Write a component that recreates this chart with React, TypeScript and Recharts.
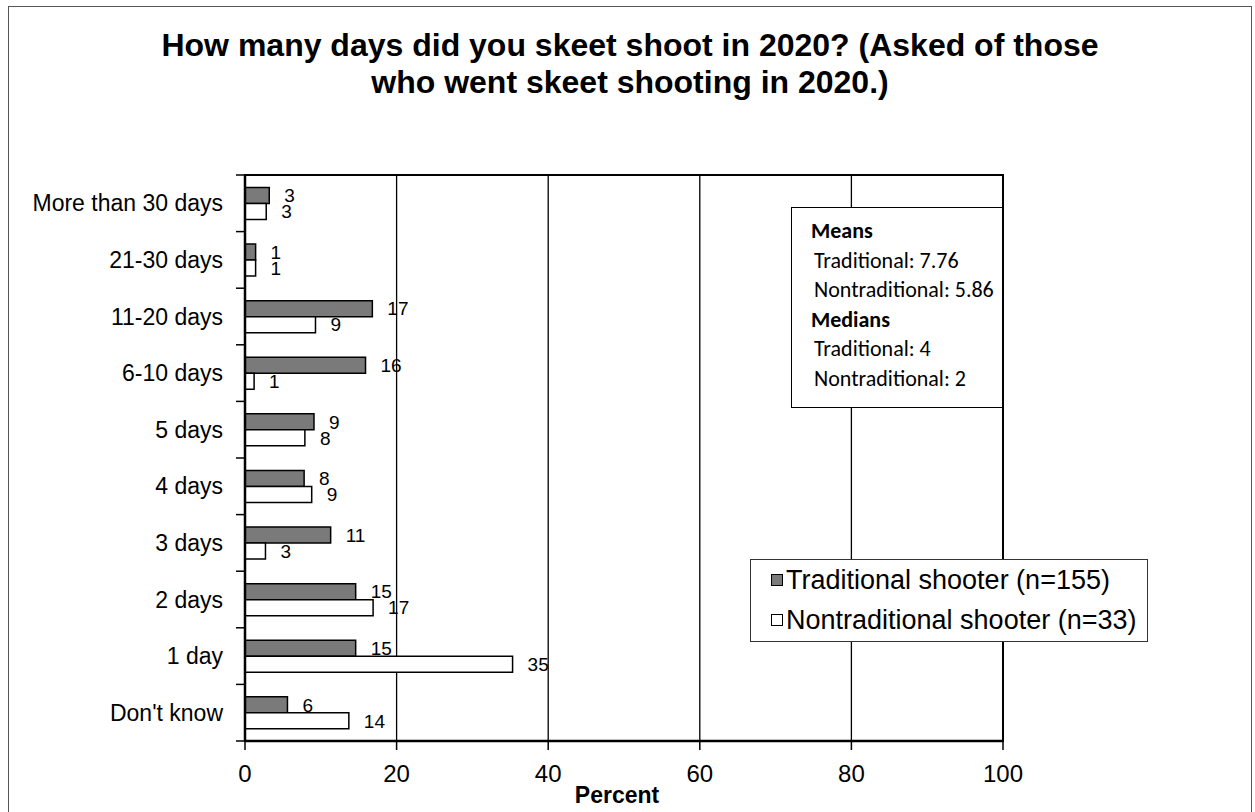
import React from 'react';
import { BarChart, Bar, XAxis, YAxis, CartesianGrid, Legend, LabelList, ReferenceArea } from 'recharts';

const categories = ['More than 30 days', '21-30 days', '11-20 days', '6-10 days', '5 days', '4 days', '3 days', '2 days', '1 day', "Don't know"];
const traditional = [3.2, 1.4, 16.8, 15.9, 9.1, 7.8, 11.3, 14.6, 14.6, 5.6];
const nontraditional = [2.8, 1.4, 9.3, 1.2, 7.9, 8.8, 2.7, 16.9, 35.3, 13.7];
const xTicks = [0, 20, 40, 60, 80, 100];
const seriesNames = ['Traditional shooter (n=155)', 'Nontraditional shooter (n=33)'];
const seriesFills = ['#7a7a7a', '#ffffff'];
const meansLines = [
  { text: 'Means', bold: true },
  { text: 'Traditional: 7.76', bold: false },
  { text: 'Nontraditional: 5.86', bold: false },
  { text: 'Medians', bold: true },
  { text: 'Traditional: 4', bold: false },
  { text: 'Nontraditional: 2', bold: false },
];

const data = categories.map((c, i) => ({ cat: c, trad: traditional[i], non: nontraditional[i] }));

const W = 1255;
const H = 812;
const PLOT_LEFT = 245;
const PLOT_TOP = 175;
const PLOT_RIGHT = 1003;
const PLOT_BOTTOM = 741;
const BAND = (PLOT_BOTTOM - PLOT_TOP) / categories.length;
const FONT = 'Arial, "Liberation Sans", sans-serif';

const YTick = (props: any) => {
  const { y, payload, index } = props;
  const yb = y - BAND / 2;
  return (
    <g>
      <text x={PLOT_LEFT - 22} y={y} textAnchor="end" dominantBaseline="central" fontSize={23} fontFamily={FONT} fill="#000">
        {payload.value}
      </text>
      <line x1={PLOT_LEFT - 9} x2={PLOT_LEFT} y1={yb} y2={yb} stroke="#000" strokeWidth={1.5} />
      {index === categories.length - 1 && (
        <line x1={PLOT_LEFT - 9} x2={PLOT_LEFT} y1={y + BAND / 2} y2={y + BAND / 2} stroke="#000" strokeWidth={1.5} />
      )}
    </g>
  );
};

const XTick = (props: any) => {
  const { x, payload } = props;
  return (
    <text x={x} y={782} textAnchor="middle" fontSize={24} fontFamily={FONT} fill="#000">
      {payload.value}
    </text>
  );
};

const LegendContent = (props: any) => {
  const payload = [...(props.payload || [])].sort(
    (a: any, b: any) => seriesNames.indexOf(a.value) - seriesNames.indexOf(b.value)
  );
  return (
    <div
      style={{
        border: '1.5px solid #333',
        background: '#fff',
        width: 398,
        height: 83,
        boxSizing: 'border-box',
        paddingLeft: 20,
        paddingTop: 0,
        fontFamily: FONT,
        fontSize: 27,
        color: '#000',
      }}
    >
      {payload.map((p: any, i: number) => (
        <div key={i} style={{ display: 'flex', alignItems: 'center', height: 40, whiteSpace: 'nowrap' }}>
          <span
            style={{
              display: 'inline-block',
              width: 10,
              height: 10,
              background: seriesFills[seriesNames.indexOf(p.value)] ?? p.color,
              border: '1px solid #000',
              marginRight: 3,
              flex: 'none',
            }}
          />
          <span>{p.value}</span>
        </div>
      ))}
    </div>
  );
};

export default function App() {
  return (
    <div style={{ position: 'fixed', left: 0, top: 0, width: W, height: H, background: '#fff', overflow: 'hidden' }}>
      <div
        style={{
          position: 'absolute',
          left: 8,
          top: 6,
          width: 1244,
          height: 840,
          border: '1.5px solid #555',
          boxSizing: 'border-box',
        }}
      />
      <div
        style={{
          position: 'absolute',
          left: 8,
          top: 27,
          width: 1244,
          textAlign: 'center',
          fontFamily: FONT,
          fontWeight: 'bold',
          fontSize: 32,
          lineHeight: '37px',
          color: '#000',
        }}
      >
        How many days did you skeet shoot in 2020? (Asked of those
        <br />
        who went skeet shooting in 2020.)
      </div>
      <div style={{ position: 'absolute', left: 0, top: 0 }}>
        <BarChart
          width={W}
          height={H}
          data={data}
          layout="vertical"
          margin={{ top: PLOT_TOP, right: W - PLOT_RIGHT, bottom: 21, left: 0 }}
          barCategoryGap="22%"
          barGap={0}
        >
          <CartesianGrid horizontal={false} vertical={true} stroke="#000" strokeWidth={1.3} />
          <XAxis
            type="number"
            domain={[0, 100]}
            ticks={xTicks}
            height={50}
            tick={<XTick />}
            tickSize={9}
            tickLine={{ stroke: '#000', strokeWidth: 1.5 }}
            axisLine={{ stroke: '#000', strokeWidth: 2.5 }}
            interval={0}
            label={() => (
              <text x={617} y={803} textAnchor="middle" fontSize={23} fontWeight="bold" fontFamily={FONT} fill="#000">
                Percent
              </text>
            )}
          />
          <YAxis
            type="category"
            dataKey="cat"
            width={PLOT_LEFT}
            tick={<YTick />}
            tickLine={false}
            axisLine={{ stroke: '#000', strokeWidth: 2.5 }}
            interval={0}
          />
          <ReferenceArea x1={0} x2={100} fill="none" stroke="#000" strokeWidth={2} ifOverflow="visible" />
          <Bar dataKey="trad" name={seriesNames[0]} fill={seriesFills[0]} stroke="#000" strokeWidth={1.5} isAnimationActive={false}>
            <LabelList
              dataKey="trad"
              position="right"
              offset={15}
              formatter={(v: any) => Math.round(Number(v))}
              style={{ fontSize: 19, fontFamily: FONT, fill: '#000' }}
            />
          </Bar>
          <Bar dataKey="non" name={seriesNames[1]} fill={seriesFills[1]} stroke="#000" strokeWidth={1.5} isAnimationActive={false}>
            <LabelList
              dataKey="non"
              position="right"
              offset={15}
              formatter={(v: any) => Math.round(Number(v))}
              style={{ fontSize: 19, fontFamily: FONT, fill: '#000' }}
            />
          </Bar>
          <Legend
            layout="vertical"
            align="center"
            verticalAlign="middle"
            content={<LegendContent />}
            wrapperStyle={{ left: 750, top: 559, width: 400, height: 84 }}
          />
        </BarChart>
      </div>
      <div
        style={{
          position: 'absolute',
          left: 791,
          top: 207,
          width: 212,
          height: 201,
          border: '1.5px solid #000',
          boxSizing: 'border-box',
          background: '#fff',
          paddingLeft: 19,
          paddingTop: 8,
          fontFamily: 'Carlito, Lato, "Noto Sans", sans-serif',
          fontSize: 22,
          lineHeight: '29.5px',
          color: '#000',
        }}
      >
        {meansLines.map((l, i) => (
          <div key={i} style={{ fontWeight: l.bold ? 'bold' : 'normal', paddingLeft: l.bold ? 0 : 3, whiteSpace: 'nowrap' }}>
            {l.text}
          </div>
        ))}
      </div>
    </div>
  );
}
